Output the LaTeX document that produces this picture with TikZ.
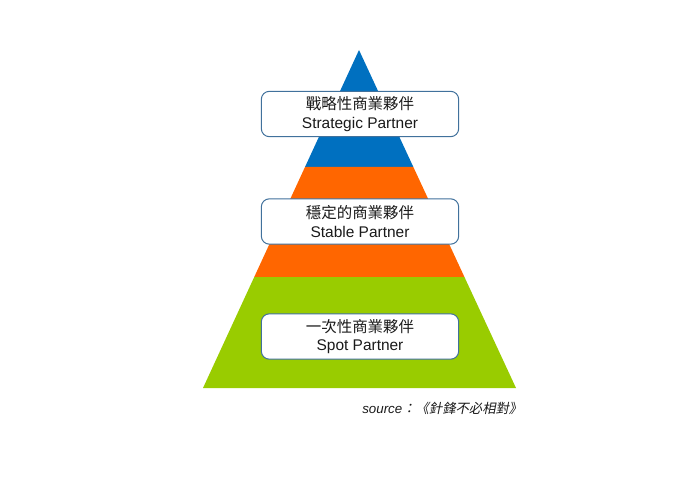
\documentclass[tikz,border=0pt]{standalone}
\usepackage{fontspec}
\setmainfont{Liberation Sans}
\newfontfamily\cjk{Noto Sans CJK TC}
\newfontfamily\cjkslant[FakeSlant=0.2]{Noto Sans CJK TC}
\usetikzlibrary{calc,positioning}
\definecolor{topblue}{HTML}{0070C0}
\definecolor{midorange}{HTML}{FF6600}
\definecolor{lowgreen}{HTML}{99CC00}
\definecolor{boxline}{HTML}{41719C}
\definecolor{txt}{HTML}{1A1A1A}

\begin{document}
\begin{tikzpicture}[x=0.75pt,y=-0.75pt,
                    tier/.style={draw=boxline,fill=white,line width=0.75pt,rounded corners=6pt,
                      minimum width=148pt,minimum height=34pt,align=center,text=txt,
                      font=\fontsize{11.6}{13.8}\selectfont}]
  \useasboundingbox (0,0) rectangle (693,499);

  % pyramid corners
  \coordinate (apex) at (359,50);
  \coordinate (bl) at (203,388);
  \coordinate (br) at (516,388);
  \coordinate (l1) at ($(apex)!0.346!(bl)$);
  \coordinate (r1) at ($(apex)!0.346!(br)$);
  \coordinate (l2) at ($(apex)!0.672!(bl)$);
  \coordinate (r2) at ($(apex)!0.672!(br)$);

  \fill[topblue] (apex) -- (r1) -- (l1) -- cycle;
  \fill[midorange] (l1) -- (r1) -- (r2) -- (l2) -- cycle;
  \fill[lowgreen] (l2) -- (r2) -- (br) -- (bl) -- cycle;

  \node[tier] (strategic) at (360,114) {{\cjk 戰略性商業夥伴}\\Strategic Partner};
  \node[tier] (stable) at (360,221.5) {{\cjk 穩定的商業夥伴}\\Stable Partner};
  \node[tier] (spot) at (360,336.5) {{\cjk 一次性商業夥伴}\\Spot Partner};

  \node[anchor=base west,inner sep=0pt,text=txt,font=\fontsize{10}{12}\selectfont] (source)
    at (362,413) {\itshape source{\cjkslant ：《針鋒不必相對》}};
\end{tikzpicture}
\end{document}
